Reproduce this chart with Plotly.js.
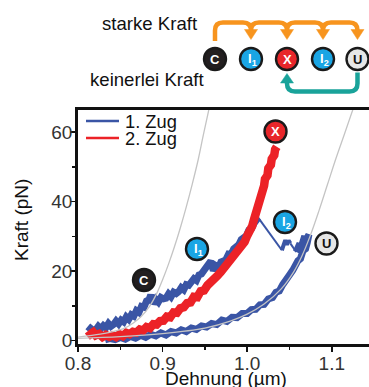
<!DOCTYPE html>
<html>
<head>
<meta charset="utf-8">
<script src="https://cdn.plot.ly/plotly-3.0.1.min.js"></script>
<style>
html,body{margin:0;padding:0;background:#fff;}
#chart{width:369px;height:387px;}
</style>
</head>
<body>
<div id="chart"></div>
<script>
// ---------- DATA ----------
const seriesNames = ['1. Zug', '2. Zug'];
const xTickVals = [0.8, 0.9, 1.0, 1.1];
const xTickText = ['0.8', '0.9', '1.0', '1.1'];
const yTickVals = [0, 20, 40, 60];
const yTickText = ['0', '20', '40', '60'];

// 1. Zug, part a: compact state -> C peak -> I1 peak -> up to ~35 pN
const zug1a_x = [0.812,0.815,0.818,0.821,0.824,0.827,0.830,0.833,0.836,0.839,0.842,0.845,0.848,0.851,0.854,0.857,0.860,0.863,0.866,0.869,0.872,0.875,0.878,0.881,0.884,0.886,
                 0.889,0.892,0.895,0.898,0.901,0.904,0.907,0.910,0.913,0.916,0.919,0.922,0.925,0.928,0.931,0.934,0.937,0.940,0.943,0.946,0.949,0.952,0.955,0.957,
                 0.960,0.963,0.966,0.969,0.972,0.975,0.978,0.981,0.984,0.987,0.990,0.993,0.996,0.999,1.002,1.005,1.008,1.011,1.013];
const zug1a_y = [2.6,3.5,2.9,3.1,4.1,3.4,4.3,3.7,4.9,4.1,4.6,5.6,4.8,5.9,5.4,6.8,6.1,7.4,7.0,8.6,8.1,9.8,9.6,11.4,11.8,13.1,
                 10.6,11.9,11.1,12.4,12.0,12.2,13.4,12.6,13.9,13.5,14.1,15.2,14.6,16.1,15.9,16.6,17.8,17.3,18.9,19.2,20.4,20.9,22.1,22.9,
                 20.1,21.5,21.0,22.6,22.9,23.4,24.9,24.8,26.4,26.9,27.6,29.1,29.4,30.2,31.8,32.2,33.7,34.6,35.4];
// 1. Zug, part b: short stretch after first rupture (I2 peak)
const zug1b_x = [1.041,1.043,1.045,1.047,1.049,1.051];
const zug1b_y = [26.0,27.6,28.9,27.6,28.8,28.0];
// 1. Zug, part c: final rise on unfolded curve and return to zero
const zug1c_x = [1.058,1.061,1.064,1.067,1.070,1.073,
                 1.071,1.069,1.066,1.063,1.060,1.057,1.054,1.050,1.046,1.042,1.038,1.034,1.030,1.025,1.020,1.015,1.010,1.005,1.000,
                 0.994,0.988,0.982,0.976,0.970,0.964,0.958,0.952,0.946,0.940,0.934,0.928,0.922,0.916,0.910,0.904,0.898,0.892,0.886,
                 0.880,0.874,0.868,0.862,0.856,0.850,0.844,0.838,0.832];
const zug1c_y = [25.5,27.2,27.0,29.3,29.2,30.5,
                 28.2,26.4,25.9,23.6,23.0,21.3,20.3,18.9,17.0,16.1,14.3,13.9,12.4,12.0,10.4,10.3,9.0,8.9,7.8,
                 7.8,6.6,6.7,5.5,5.9,4.6,4.9,3.9,4.2,3.2,3.6,2.6,3.1,2.2,2.6,1.6,2.2,1.3,1.8,
                 0.9,1.5,0.7,1.2,0.4,0.9,0.3,0.6,0.2];

// 2. Zug
const zug2_x = [0.812,0.815,0.818,0.821,0.825,0.829,0.833,0.837,0.841,0.845,0.849,0.853,0.857,0.861,0.865,0.869,0.873,0.877,0.881,0.885,
                0.889,0.893,0.897,0.901,0.905,0.909,0.913,0.917,0.921,0.925,0.929,0.933,0.937,0.941,0.945,0.949,0.953,0.957,0.961,0.965,
                0.969,0.973,0.977,0.981,0.985,0.989,0.993,0.997,1.000,1.003,1.006,1.008,1.010,1.012,1.013,1.016,1.017,1.020,1.021,1.024,
                1.025,1.028,1.029,1.032,1.033,1.035];
const zug2_y = [2.8,1.9,2.4,1.5,1.9,1.0,1.6,1.1,1.5,1.0,1.8,1.3,2.2,1.8,2.5,2.3,3.2,2.9,3.9,3.6,
                4.7,4.6,5.6,5.7,6.9,6.7,8.1,8.0,9.3,9.6,10.8,11.0,12.6,12.5,14.2,14.4,15.9,16.6,17.8,18.7,
                19.8,21.0,22.0,23.5,24.5,25.8,27.4,28.4,30.2,31.3,33.0,34.8,36.3,38.2,40.0,41.2,43.3,44.6,46.5,47.6,
                49.6,50.6,52.3,53.4,55.0,55.8];

// worm-like-chain fit curves (grey)
const fitC_x = [0.800,0.820,0.840,0.855,0.865,0.875,0.885,0.893,0.900,0.907,0.914,0.921,0.928,0.935,0.942,0.948,0.956];
const fitC_y = [1.0,1.6,2.5,3.6,5.0,7.0,10.0,13.5,17.5,22.0,27.0,32.5,38.5,45.0,52.0,59.0,68.0];
const fitU_x = [0.800,0.850,0.900,0.950,0.980,1.000,1.020,1.040,1.055,1.065,1.075,1.085,1.095,1.105,1.115,1.127];
const fitU_y = [0.6,1.1,2.0,3.6,5.6,7.6,10.5,14.8,19.8,24.5,30.5,37.5,45.0,52.5,59.5,68.0];

// ---------- STYLE / LAYOUT ----------
const BLUE = '#3a55a5', RED = '#ec2227', GREY = '#c4c4c4';
const ORANGE = '#f7941e', TEAL = '#19a39a';
const FONT = 'Liberation Sans, Arial, sans-serif';

const W0 = 369, H0 = 387;
const mL = 78, mR = 0, mT = 110, mB = 43;
const PW = W0 - mL - mR, PH = H0 - mT - mB;
const px = x => (x - mL) / PW;
const py = y => (H0 - mB - y) / PH;
const P = (x, y) => px(x).toFixed(5) + ',' + py(y).toFixed(5);

const last = a => a[a.length - 1];

const traces = [
  {x: zug1a_x, y: zug1a_y, mode: 'lines', line: {color: BLUE, width: 7}, showlegend: false, name: seriesNames[0]},
  {x: [last(zug1a_x), zug1b_x[0]], y: [last(zug1a_y), zug1b_y[0]], mode: 'lines', line: {color: BLUE, width: 2}, showlegend: false, hoverinfo: 'skip'},
  {x: zug1b_x, y: zug1b_y, mode: 'lines', line: {color: BLUE, width: 4}, showlegend: false, hoverinfo: 'skip'},
  {x: [last(zug1b_x), zug1c_x[0]], y: [last(zug1b_y), zug1c_y[0]], mode: 'lines', line: {color: BLUE, width: 2}, showlegend: false, hoverinfo: 'skip'},
  {x: zug1c_x, y: zug1c_y, mode: 'lines', line: {color: BLUE, width: 7}, showlegend: false, hoverinfo: 'skip'},
  {x: zug2_x, y: zug2_y, mode: 'lines', line: {color: RED, width: 8.5}, showlegend: false, name: seriesNames[1]},
  {x: fitC_x, y: fitC_y, mode: 'lines', line: {color: GREY, width: 1.3, shape: 'spline'}, showlegend: false, hoverinfo: 'skip'},
  {x: fitU_x, y: fitU_y, mode: 'lines', line: {color: GREY, width: 1.3, shape: 'spline'}, showlegend: false, hoverinfo: 'skip'}
];

const shapes = [];
const annotations = [];

// legend (manual, tight spacing as in the reference)
[[121, BLUE], [138, RED]].forEach(([yy, col], i) => {
  shapes.push({type: 'line', xref: 'paper', yref: 'paper', x0: px(86), x1: px(119), y0: py(yy), y1: py(yy),
               line: {color: col, width: 2.6}});
  annotations.push({xref: 'paper', yref: 'paper', x: px(123), y: py(yy + 0.5), text: seriesNames[i], showarrow: false,
                    xanchor: 'left', yanchor: 'middle', font: {family: FONT, size: 18.3, color: '#111'}});
});

// scheme: arrows
const topY = 22.5, rad = 8;
const targets = [251, 287, 323, 357.5];
let d = 'M ' + P(215, 41) + ' L ' + P(215, topY + rad);
let prev = 215;
targets.forEach(t => {
  d += ' M ' + P(prev, topY + rad) + ' Q ' + P(prev, topY) + ' ' + P(prev + rad, topY) +
       ' L ' + P(t - rad, topY) + ' Q ' + P(t, topY) + ' ' + P(t, topY + rad);
  prev = t;
});
shapes.push({type: 'path', xref: 'paper', yref: 'paper', path: d, line: {color: ORANGE, width: 4.5}});
targets.forEach(t => {
  shapes.push({type: 'path', xref: 'paper', yref: 'paper',
    path: 'M ' + P(t - 6.5, 29.5) + ' L ' + P(t + 6.5, 29.5) + ' L ' + P(t, 39.5) + ' Z',
    fillcolor: ORANGE, line: {color: ORANGE, width: 0.5}});
});
const botY = 91.5;
const dT = 'M ' + P(357.5, 72.5) + ' L ' + P(357.5, botY - rad) + ' Q ' + P(357.5, botY) + ' ' + P(357.5 - rad, botY) +
           ' L ' + P(287 + rad, botY) + ' Q ' + P(287, botY) + ' ' + P(287, botY - rad) + ' L ' + P(287, 82);
shapes.push({type: 'path', xref: 'paper', yref: 'paper', path: dT, line: {color: TEAL, width: 4.5}});
shapes.push({type: 'path', xref: 'paper', yref: 'paper',
  path: 'M ' + P(280.5, 83) + ' L ' + P(293.5, 83) + ' L ' + P(287, 73.5) + ' Z',
  fillcolor: TEAL, line: {color: TEAL, width: 0.5}});

// state icons
const CBLK = '#231f20', CBLUE = '#1aa5e4', CRED = '#e8262a', CGREY = '#e6e6e6';
function icon(cx, cy, fill, txt, tcol) {
  const r = 11;
  shapes.push({type: 'circle', xref: 'paper', yref: 'paper', x0: px(cx - r), x1: px(cx + r), y0: py(cy + r), y1: py(cy - r),
               fillcolor: fill, line: {color: '#1a1a1a', width: 2.4}});
  annotations.push({xref: 'paper', yref: 'paper', x: px(cx + (txt.indexOf('sub') > 0 ? 1 : 0)), y: py(cy), text: '<b>' + txt + '</b>',
                    showarrow: false, xanchor: 'center', yanchor: 'middle',
                    font: {family: FONT, size: 13, color: tcol}});
}
// top row
icon(215, 59, CBLK, 'C', '#fff');
icon(251, 59, CBLUE, 'I<sub>1</sub>', '#fff');
icon(287, 59, CRED, 'X', '#fff');
icon(323, 59, CBLUE, 'I<sub>2</sub>', '#fff');
icon(357.5, 59, CGREY, 'U', '#111');
// in plot
icon(144, 280, CBLK, 'C', '#fff');
icon(197, 249, CBLUE, 'I<sub>1</sub>', '#fff');
icon(275.5, 131.5, CRED, 'X', '#fff');
icon(285, 222, CBLUE, 'I<sub>2</sub>', '#fff');
icon(326.5, 243.5, CGREY, 'U', '#111');

// scheme labels
annotations.push({xref: 'paper', yref: 'paper', x: px(149.5), y: py(23.5), text: 'starke Kraft', showarrow: false,
                  xanchor: 'center', yanchor: 'middle', font: {family: FONT, size: 18.6, color: '#111'}});
annotations.push({xref: 'paper', yref: 'paper', x: px(147), y: py(79), text: 'keinerlei Kraft', showarrow: false,
                  xanchor: 'center', yanchor: 'middle', font: {family: FONT, size: 18.6, color: '#111'}});
// axis titles
annotations.push({xref: 'paper', yref: 'paper', x: px(21), y: py(220), text: 'Kraft (pN)', showarrow: false, textangle: -90,
                  xanchor: 'center', yanchor: 'middle', font: {family: FONT, size: 19, color: '#111'}});
annotations.push({xref: 'paper', yref: 'paper', x: px(226), y: py(378), text: 'Dehnung (µm)', showarrow: false,
                  xanchor: 'center', yanchor: 'middle', font: {family: FONT, size: 19, color: '#111'}});

const layout = {
  width: W0, height: H0,
  margin: {l: mL, r: mR, t: mT, b: mB, pad: 0},
  paper_bgcolor: '#fff', plot_bgcolor: '#fff',
  showlegend: false,
  font: {family: FONT, color: '#111'},
  xaxis: {
    range: [0.8, 1.144], showgrid: false, zeroline: false,
    showline: true, linecolor: '#111', linewidth: 3, mirror: true,
    ticks: 'outside', ticklen: 5, tickwidth: 1.5, tickcolor: '#111',
    tickvals: xTickVals, ticktext: xTickText, ticklabelstandoff: -5,
    tickfont: {family: FONT, size: 19, color: '#333'},
    minor: {tickvals: [0.85, 0.95, 1.05], ticks: 'outside', ticklen: 3, tickwidth: 1.5, tickcolor: '#111', showgrid: false}
  },
  yaxis: {
    range: [-1.0, 66.4], showgrid: false, zeroline: false,
    showline: true, linecolor: '#111', linewidth: 2.8, mirror: false,
    ticks: 'outside', ticklen: 5, tickwidth: 1.5, tickcolor: '#111',
    tickvals: yTickVals, ticktext: yTickText, ticklabelstandoff: -6,
    tickfont: {family: FONT, size: 19, color: '#333'},
    minor: {tickvals: [10, 30, 50], ticks: 'outside', ticklen: 3, tickwidth: 1.5, tickcolor: '#111', showgrid: false}
  },
  shapes: shapes,
  annotations: annotations
};

Plotly.newPlot('chart', traces, layout, {displayModeBar: false, staticPlot: true});
</script>
</body>
</html>
